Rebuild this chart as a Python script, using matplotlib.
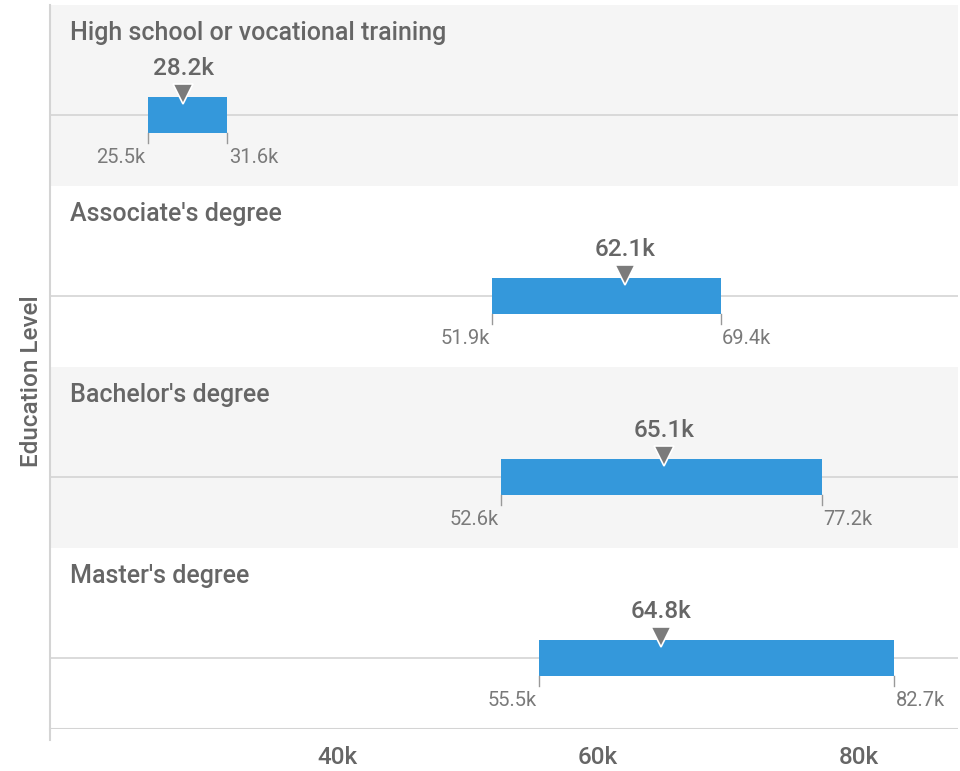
import matplotlib
matplotlib.use('Agg')
import matplotlib.pyplot as plt
from matplotlib.lines import Line2D

plt.rcParams['font.family'] = ['Roboto', 'DejaVu Sans']

levels = ["High school or vocational training", "Associate's degree",
          "Bachelor's degree", "Master's degree"]
low = [25.5, 51.9, 52.6, 55.5]
high = [31.6, 69.4, 77.2, 82.7]
median = [28.2, 62.1, 65.1, 64.8]
xticks = [40, 60, 80]

bar_color = '#3498db'
text_dark = '#666666'
text_light = '#7a7a7a'
line_color = '#d4d4d4'

fig = plt.figure(figsize=(9.6, 7.71), dpi=100)
ax = fig.add_axes([50 / 960, (771 - 729) / 771, 908 / 960, 724 / 771])
ax.set_xlim(18.0, 87.6)
ax.set_ylim(len(levels), 0)

center = 0.608
bar_h = 0.2
for i, name in enumerate(levels):
    if i % 2 == 0:
        ax.axhspan(i, i + 1, color='#f5f5f5', lw=0, zorder=0)
    ax.axhline(i + center, color=line_color, lw=1.2, zorder=1)
    ax.barh(i + center, high[i] - low[i], left=low[i], height=bar_h,
            color=bar_color, zorder=2)
    yb = i + center + bar_h / 2
    for v in (low[i], high[i]):
        ax.plot([v, v], [yb, yb + 0.055], color='#999999', lw=1, zorder=2)
    ax.plot(median[i], i + 0.49, marker='v', markersize=14, color='#7b7b7b',
            markeredgecolor='white', markeredgewidth=1.2, zorder=3)
    ax.text(19.5, i + 0.155, name, fontsize=18, fontweight='medium',
            color=text_dark, va='center', ha='left')
    ax.text(median[i], i + 0.35, f'{median[i]:.1f}k', fontsize=17.5,
            fontweight='medium', color=text_dark, va='center', ha='center')
    ax.text(low[i] - 0.2, i + 0.845, f'{low[i]:.1f}k', fontsize=14.5,
            color=text_light, va='center', ha='right')
    ax.text(high[i] + 0.1, i + 0.845, f'{high[i]:.1f}k', fontsize=14.5,
            color=text_light, va='center', ha='left')

ax.axhline(len(levels), color=line_color, lw=1.5, zorder=1)

for s in ['top', 'right', 'bottom']:
    ax.spines[s].set_visible(False)
ax.spines['left'].set_color(line_color)
ax.spines['left'].set_linewidth(1.5)
ax.add_line(Line2D([0, 0], [0, -11 / 724], transform=ax.transAxes,
                   color=line_color, lw=1.5, clip_on=False))

ax.set_yticks([])
ax.set_xticks(xticks)
ax.set_xticklabels([f'{t}k' for t in xticks], fontsize=17.5, fontweight='medium',
                   color=text_dark)
ax.tick_params(axis='x', length=0, pad=12)

ax.set_ylabel('Education Level', fontsize=17.5, fontweight='medium',
              color=text_dark)
ax.yaxis.set_label_coords(-7 / 908, 0.48)

fig.savefig('out.png', dpi=100)
